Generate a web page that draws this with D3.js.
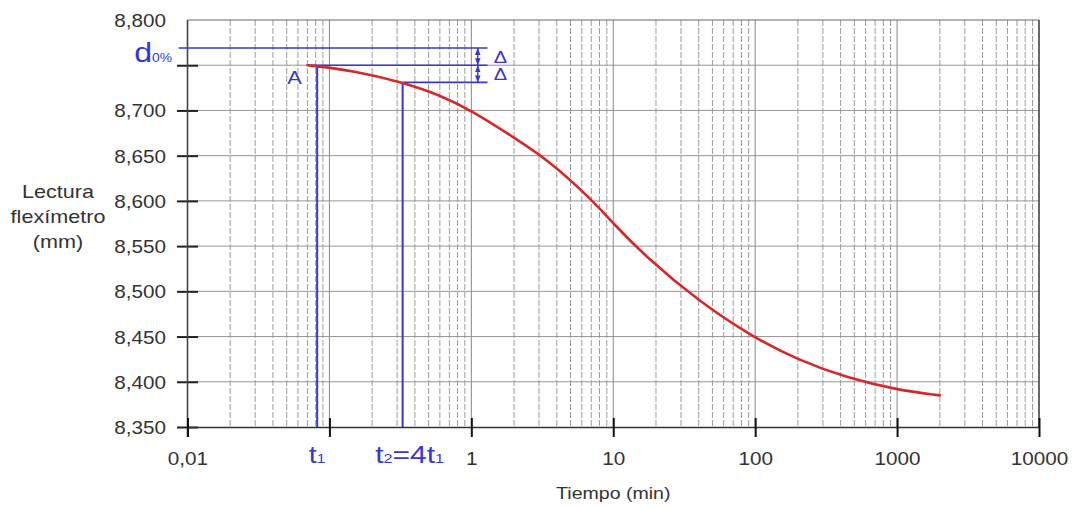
<!DOCTYPE html>
<html>
<head>
<meta charset="utf-8">
<script src="https://cdn.jsdelivr.net/npm/d3@7"></script>
<style>
  html, body { margin: 0; padding: 0; background: #fff; }
  svg { display: block; }
</style>
</head>
<body>
<svg id="chart" width="1081" height="507"></svg>
<script>
// Consolidation reading vs. log time, with the Casagrande-style d0% construction.
const timeMin = [0.07, 0.15, 0.328, 0.6, 1, 2, 3.5, 7, 10, 17, 40, 95, 200, 450, 1000, 2000];
const reading = [8.750, 8.744, 8.731, 8.717, 8.700, 8.670, 8.645, 8.602, 8.575, 8.538, 8.489, 8.450, 8.424, 8.404, 8.391, 8.385];

const xTickValues = [0.01, 0.1, 1, 10, 100, 1000, 10000];
const xTickLabels = ["0,01", "", "1", "10", "100", "1000", "10000"];
const yTickValues = [8.35, 8.40, 8.45, 8.50, 8.55, 8.60, 8.65, 8.70, 8.75, 8.80];
const yTickLabels = ["8,350", "8,400", "8,450", "8,500", "8,550", "8,600", "8,650", "8,700", "", "8,800"];

// Construction times: t1 and t2 = 4·t1
const t1 = 0.082;
const t2 = 4 * t1;

const svg = d3.select("#chart");
const FONT = "'Liberation Sans', Arial, Helvetica, sans-serif";
const TXT = "#333";
const BLUE = "#3737d2";
const STRETCH = 1.15;

const x = d3.scaleLog().domain([0.01, 10000]).range([187.5, 1039]);
const y = d3.scaleLinear().domain([8.35, 8.80]).range([427, 20]);

const vA = reading[0];                       // point A, start of the curve
const vT2 = reading[timeMin.indexOf(t2)];
const delta = vA - vT2;
const d0 = vA + delta;

// free-standing, slightly widened label
function label(px, py, anchor, k = STRETCH) {
  const g = svg.append("g").attr("transform", `translate(${px},${py}) scale(${k},1)`);
  return g.append("text")
    .attr("text-anchor", anchor)
    .attr("font-family", FONT);
}

// ---- grid ----
const grid = svg.append("g");
const minorT = [];
const decades = [0.01, 0.1, 1, 10, 100, 1000];
decades.forEach(d => { for (let k = 2; k <= 9; k++) minorT.push(d * k); });

grid.selectAll("line.minor").data(minorT).join("line")
  .attr("class", "minor")
  .attr("x1", d => x(d)).attr("x2", d => x(d))
  .attr("y1", y(8.80)).attr("y2", y(8.35))
  .attr("stroke", "#9c9c9c").attr("stroke-width", 1)
  .attr("stroke-dasharray", "6,2");

grid.selectAll("line.major").data(xTickValues.slice(1, -1)).join("line")
  .attr("class", "major")
  .attr("x1", d => x(d)).attr("x2", d => x(d))
  .attr("y1", y(8.80)).attr("y2", y(8.35))
  .attr("stroke", "#888").attr("stroke-width", 1);

grid.selectAll("line.h").data(yTickValues.slice(1, -1)).join("line")
  .attr("class", "h")
  .attr("x1", x(0.01)).attr("x2", x(10000))
  .attr("y1", d => y(d)).attr("y2", d => y(d))
  .attr("stroke", "#959595").attr("stroke-width", 1);

// frame: top and right edges
svg.append("line")
  .attr("x1", x(0.01)).attr("x2", x(10000))
  .attr("y1", y(8.80)).attr("y2", y(8.80))
  .attr("stroke", "#666").attr("stroke-width", 1.2);
svg.append("line")
  .attr("x1", x(10000)).attr("x2", x(10000))
  .attr("y1", y(8.80)).attr("y2", y(8.35))
  .attr("stroke", "#555").attr("stroke-width", 1.8);

// ---- axes ----
const gY = svg.append("g").attr("transform", `translate(${x(0.01)},0)`)
  .call(d3.axisLeft(y).tickValues(yTickValues).tickFormat((d, i) => yTickLabels[i])
    .tickSizeInner(10.5).tickSizeOuter(0).tickPadding(11));
gY.select(".domain").remove();
gY.attr("font-family", FONT).attr("font-size", 18);
gY.selectAll(".tick line")
  .attr("x1", 10.5).attr("stroke", "#222").attr("stroke-width", 2)
  .filter(d => d === 8.80).remove();
gY.selectAll(".tick text")
  .attr("fill", TXT)
  .attr("x", -21.5 / STRETCH)
  .attr("dy", "0.36em")
  .attr("transform", `scale(${STRETCH},1)`);
svg.append("line")
  .attr("x1", x(0.01)).attr("x2", x(0.01))
  .attr("y1", y(8.80)).attr("y2", y(8.35) + 10)
  .attr("stroke", "#444").attr("stroke-width", 1.6);

const gX = svg.append("g").attr("transform", `translate(0,${y(8.35)})`)
  .call(d3.axisBottom(x).tickValues(xTickValues).tickFormat((d, i) => xTickLabels[i])
    .tickSizeInner(10).tickSizeOuter(0));
gX.select(".domain").attr("stroke", "#333").attr("stroke-width", 1.4);
gX.attr("font-family", FONT).attr("font-size", 18);
gX.selectAll(".tick line")
  .attr("y1", -9).attr("stroke", "#111").attr("stroke-width", 2);
gX.selectAll(".tick text")
  .attr("fill", TXT)
  .attr("y", 38).attr("dy", 0)
  .attr("transform", `scale(${STRETCH},1)`);

// axis titles
label(x(10), 499, "middle").attr("font-size", 17).attr("fill", TXT).text("Tiempo (min)");
["Lectura", "flexímetro", "(mm)"].forEach((s, i) => {
  label(58, 198 + i * 25, "middle", 1.2).attr("font-size", 18).attr("fill", TXT).text(s);
});

// ---- construction lines ----
const xEnd = x(1.3);
const xArrow = x(1.11);
const ann = svg.append("g").attr("stroke", BLUE).attr("fill", "none");

ann.append("line").attr("x1", x(0.01) - 9).attr("x2", xEnd)
  .attr("y1", y(d0)).attr("y2", y(d0)).attr("stroke-width", 1.6);
ann.append("line").attr("x1", x(timeMin[0])).attr("x2", xEnd)
  .attr("y1", y(vA)).attr("y2", y(vA)).attr("stroke-width", 1.6);
ann.append("line").attr("x1", x(t2)).attr("x2", xEnd)
  .attr("y1", y(vT2)).attr("y2", y(vT2)).attr("stroke-width", 1.6);

ann.append("line").attr("x1", x(t1)).attr("x2", x(t1))
  .attr("y1", y(vA)).attr("y2", y(8.35)).attr("stroke-width", 2);
ann.append("line").attr("x1", x(t2)).attr("x2", x(t2))
  .attr("y1", y(vT2)).attr("y2", y(8.35)).attr("stroke-width", 2);

// Δ dimension arrows
svg.append("defs").append("marker")
  .attr("id", "tip").attr("viewBox", "0 0 10 10")
  .attr("refX", 10).attr("refY", 5)
  .attr("markerWidth", 5).attr("markerHeight", 5)
  .attr("orient", "auto-start-reverse")
  .append("path").attr("d", "M0,1L10,5L0,9Z").attr("fill", BLUE);

[[d0, vA], [vA, vT2]].forEach(([a, b]) => {
  ann.append("line")
    .attr("x1", xArrow).attr("x2", xArrow)
    .attr("y1", y(a)).attr("y2", y(b))
    .attr("stroke-width", 1.4)
    .attr("marker-start", "url(#tip)").attr("marker-end", "url(#tip)");
});

// ---- consolidation curve ----
const line = d3.line()
  .x((d, i) => x(timeMin[i]))
  .y(d => y(d))
  .curve(d3.curveBasis);
svg.append("path")
  .datum(reading)
  .attr("d", line)
  .attr("fill", "none")
  .attr("stroke", "#d62828")
  .attr("stroke-width", 2.6)
  .attr("stroke-linecap", "round");

// ---- annotation text ----
const dLab = label(172, 62, "end").attr("fill", BLUE);
dLab.append("tspan").attr("font-size", 28).text("d");
dLab.append("tspan").attr("font-size", 12).text("0%");

label(x(t1) - 30, 84, "start").attr("fill", BLUE).attr("font-size", 19).text("A");

label(xArrow + 16, y((d0 + vA) / 2) + 6, "start", 1.25).attr("fill", BLUE).attr("font-size", 16).text("Δ");
label(xArrow + 16, y((vA + vT2) / 2) + 6, "start", 1.25).attr("fill", BLUE).attr("font-size", 16).text("Δ");

const l1 = label(x(t1), 463, "middle", 1.2).attr("fill", BLUE);
l1.append("tspan").attr("font-size", 24).text("t");
l1.append("tspan").attr("font-size", 13).text("1");

const l2 = label(x(t2) + 7, 463, "middle", 1.25).attr("fill", BLUE);
l2.append("tspan").attr("font-size", 24).text("t");
l2.append("tspan").attr("font-size", 13).text("2");
l2.append("tspan").attr("font-size", 24).text("=4t");
l2.append("tspan").attr("font-size", 13).text("1");
</script>
</body>
</html>
